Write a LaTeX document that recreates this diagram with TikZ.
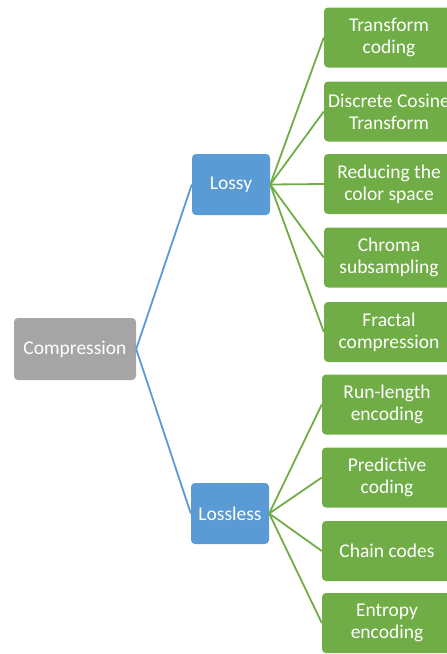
\documentclass[tikz,border=0pt]{standalone}
\usepackage{fontspec}
\setmainfont{Carlito}

\definecolor{rootgray}{HTML}{A5A5A5}
\definecolor{branchblue}{HTML}{5B9BD5}
\definecolor{leafgreen}{HTML}{70AD47}

\begin{document}
\begin{tikzpicture}[x=1pt,y=-1pt,
  box/.style={rounded corners=4pt, text=white, align=center, inner sep=0pt, font=\fontsize{19.5}{22}\selectfont},
  root/.style={box, fill=rootgray, minimum width=122pt, minimum height=62pt},
  branch/.style={box, fill=branchblue, minimum width=78pt, minimum height=61pt},
  leaf/.style={box, fill=leafgreen, minimum width=130pt, minimum height=60pt},
  blueline/.style={branchblue, line width=1.8pt},
  greenline/.style={leafgreen, line width=1.8pt}]

\clip (0,0) rectangle (447,654);

\node[root] (comp) at (75,349) {Compression};
\node[branch] (lossy) at (231,184.5) {Lossy};
\node[branch] (lossless) at (230,513.5) {Lossless};


\node[leaf] (transform) at (389,37.5) {Transform\\coding};
\node[leaf] (dct) at (389,111.5) {Discrete Cosine\\Transform};
\node[leaf] (colorspace) at (389,184) {Reducing the\\color space};
\node[leaf] (chroma) at (389,257.5) {Chroma\\subsampling};
\node[leaf] (fractal) at (389,332) {Fractal\\compression};


\node[leaf] (runlength) at (387,404.5) {Run-length\\encoding};
\node[leaf] (predictive) at (387,477.5) {Predictive\\coding};
\node[leaf] (chain) at (387,551) {Chain codes};
\node[leaf] (entropy) at (387,623) {Entropy\\encoding};


\draw[blueline] (comp.east) -- (lossy.west);
\draw[blueline] (comp.east) -- (lossless.west);


\draw[greenline] (lossy.east) -- (transform.west);
\draw[greenline] (lossy.east) -- (dct.west);
\draw[greenline] (lossy.east) -- (colorspace.west);
\draw[greenline] (lossy.east) -- (chroma.west);
\draw[greenline] (lossy.east) -- (fractal.west);


\draw[greenline] (lossless.east) -- (runlength.west);
\draw[greenline] (lossless.east) -- (predictive.west);
\draw[greenline] (lossless.east) -- (chain.west);
\draw[greenline] (lossless.east) -- (entropy.west);
\end{tikzpicture}
\end{document}
